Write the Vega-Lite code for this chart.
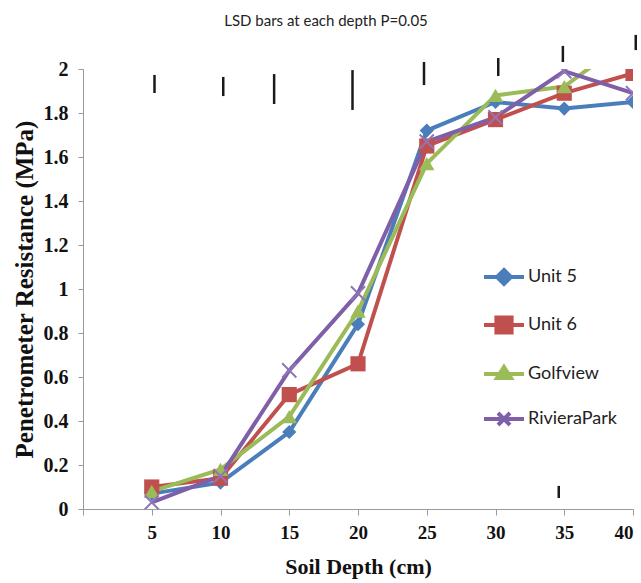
{
  "$schema": "https://vega.github.io/schema/vega-lite/v6.json",
  "width": 550,
  "height": 440,
  "autosize": {"type": "none"},
  "padding": {"left": 83, "top": 69, "right": 8, "bottom": 74},
  "background": "white",
  "title": {
    "text": "LSD bars at each depth P=0.05",
    "font": "Lato",
    "fontSize": 15,
    "fontWeight": "normal",
    "color": "#222222",
    "anchor": "middle",
    "frame": "group",
    "dx": -32,
    "offset": 5
  },
  "config": {
    "view": {"stroke": null},
    "axis": {
      "grid": false,
      "domainColor": "#9a9a9a",
      "tickColor": "#9a9a9a",
      "labelFont": "Liberation Serif",
      "labelFontWeight": "bold",
      "labelColor": "#111111",
      "titleFont": "Liberation Serif",
      "titleFontWeight": "bold",
      "titleColor": "#111111"
    }
  },
  "datasets": {
    "series": [
      {"depth": 5, "pr": 0.07, "site": "Unit 5"},
      {"depth": 10, "pr": 0.12, "site": "Unit 5"},
      {"depth": 15, "pr": 0.35, "site": "Unit 5"},
      {"depth": 20, "pr": 0.84, "site": "Unit 5"},
      {"depth": 25, "pr": 1.72, "site": "Unit 5"},
      {"depth": 30, "pr": 1.85, "site": "Unit 5"},
      {"depth": 35, "pr": 1.82, "site": "Unit 5"},
      {"depth": 40, "pr": 1.85, "site": "Unit 5"},
      {"depth": 5, "pr": 0.10, "site": "Unit 6"},
      {"depth": 10, "pr": 0.14, "site": "Unit 6"},
      {"depth": 15, "pr": 0.52, "site": "Unit 6"},
      {"depth": 20, "pr": 0.66, "site": "Unit 6"},
      {"depth": 25, "pr": 1.65, "site": "Unit 6"},
      {"depth": 30, "pr": 1.77, "site": "Unit 6"},
      {"depth": 35, "pr": 1.89, "site": "Unit 6"},
      {"depth": 40, "pr": 1.98, "site": "Unit 6"},
      {"depth": 5, "pr": 0.08, "site": "Golfview"},
      {"depth": 10, "pr": 0.18, "site": "Golfview"},
      {"depth": 15, "pr": 0.42, "site": "Golfview"},
      {"depth": 20, "pr": 0.90, "site": "Golfview"},
      {"depth": 25, "pr": 1.57, "site": "Golfview"},
      {"depth": 30, "pr": 1.88, "site": "Golfview"},
      {"depth": 35, "pr": 1.92, "site": "Golfview"},
      {"depth": 40, "pr": 2.15, "site": "Golfview"},
      {"depth": 5, "pr": 0.03, "site": "RivieraPark"},
      {"depth": 10, "pr": 0.15, "site": "RivieraPark"},
      {"depth": 15, "pr": 0.63, "site": "RivieraPark"},
      {"depth": 20, "pr": 0.98, "site": "RivieraPark"},
      {"depth": 25, "pr": 1.67, "site": "RivieraPark"},
      {"depth": 30, "pr": 1.78, "site": "RivieraPark"},
      {"depth": 35, "pr": 1.99, "site": "RivieraPark"},
      {"depth": 40, "pr": 1.89, "site": "RivieraPark"}
    ],
    "lsd": [
      {"depth": 5.2, "lo": 1.891, "hi": 1.973},
      {"depth": 10.2, "lo": 1.877, "hi": 1.964},
      {"depth": 13.9, "lo": 1.841, "hi": 1.977},
      {"depth": 19.6, "lo": 1.814, "hi": 1.995},
      {"depth": 24.8, "lo": 1.927, "hi": 2.032},
      {"depth": 30.2, "lo": 1.968, "hi": 2.05},
      {"depth": 34.9, "lo": 2.032, "hi": 2.105},
      {"depth": 40.2, "lo": 2.086, "hi": 2.155},
      {"depth": 34.6, "lo": 0.05, "hi": 0.105}
    ]
  },
  "layer": [
    {
      "data": {"name": "series"},
      "mark": {"type": "line", "strokeWidth": 4, "clip": true},
      "encoding": {
        "x": {
          "field": "depth",
          "type": "quantitative",
          "scale": {"domain": [0, 40], "nice": false, "zero": false},
          "axis": {
            "values": [0, 5, 10, 15, 20, 25, 30, 35, 40],
            "labelExpr": "datum.value === 0 ? '' : datum.label",
            "labelFontSize": 19,
            "tickSize": 6,
            "labelPadding": 8,
            "title": "Soil Depth (cm)",
            "titleFontSize": 22,
            "titlePadding": 14
          }
        },
        "y": {
          "field": "pr",
          "type": "quantitative",
          "scale": {"domain": [0, 2], "nice": false},
          "axis": {
            "values": [0, 0.2, 0.4, 0.6, 0.8, 1, 1.2, 1.4, 1.6, 1.8, 2],
            "format": "~g",
            "labelFontSize": 20,
            "tickSize": 5,
            "labelPadding": 10,
            "title": "Penetrometer  Resistance (MPa)",
            "titleFontSize": 25,
            "titlePadding": 6
          }
        },
        "color": {
          "field": "site",
          "type": "nominal",
          "scale": {
            "domain": ["Unit 5", "Unit 6", "Golfview", "RivieraPark"],
            "range": ["#4A7EBB", "#C0504D", "#9BBB59", "#7F5FA8"]
          },
          "legend": {
            "title": null,
            "orient": "none",
            "legendX": 399,
            "legendY": 186,
            "padding": 0,
            "rowPadding": 11,
            "labelOffset": 2,
            "symbolSize": 1600,
            "labelFont": "Lato",
            "labelFontSize": 18,
            "labelColor": "#222222",
            "encode": {
              "symbols": {
                "update": {
                  "shape": {"signal": "datum.value === 'Unit 5' ? 'M-1,0H1M0,-0.35L0.35,0L0,0.35L-0.35,0Z' : datum.value === 'Unit 6' ? 'M-1,0H1M-0.38,-0.38H0.38V0.38H-0.38Z' : datum.value === 'Golfview' ? 'M-1,0H1M0,-0.35L0.35,0.2H-0.35Z' : 'M-1,0H1M-0.3,-0.3L0.3,0.3M-0.3,0.3L0.3,-0.3'"},
                  "stroke": {"signal": "datum.value === 'Unit 5' ? '#4A7EBB' : datum.value === 'Unit 6' ? '#C0504D' : datum.value === 'Golfview' ? '#9BBB59' : '#7F5FA8'"},
                  "fill": {"signal": "datum.value === 'Unit 5' ? '#4A7EBB' : datum.value === 'Unit 6' ? '#C0504D' : datum.value === 'Golfview' ? '#9BBB59' : '#7F5FA8'"},
                  "strokeWidth": {"value": 4},
                  "opacity": {"value": 1}
                }
              }
            }
          }
        }
      }
    },
    {
      "data": {"name": "series"},
      "transform": [{"filter": "datum.site === 'Unit 5'"}],
      "mark": {"type": "point", "shape": "diamond", "filled": true, "clip": true, "size": 200, "color": "#4A7EBB", "opacity": 1},
      "encoding": {
        "x": {"field": "depth", "type": "quantitative"},
        "y": {"field": "pr", "type": "quantitative"}
      }
    },
    {
      "data": {"name": "series"},
      "transform": [{"filter": "datum.site === 'Unit 6'"}],
      "mark": {"type": "point", "shape": "square", "filled": true, "clip": true, "size": 230, "color": "#C0504D", "opacity": 1},
      "encoding": {
        "x": {"field": "depth", "type": "quantitative"},
        "y": {"field": "pr", "type": "quantitative"}
      }
    },
    {
      "data": {"name": "series"},
      "transform": [{"filter": "datum.site === 'Golfview'"}],
      "mark": {"type": "point", "shape": "triangle-up", "filled": true, "clip": true, "size": 240, "color": "#9BBB59", "opacity": 1},
      "encoding": {
        "x": {"field": "depth", "type": "quantitative"},
        "y": {"field": "pr", "type": "quantitative"}
      }
    },
    {
      "data": {"name": "series"},
      "transform": [{"filter": "datum.site === 'RivieraPark'"}],
      "mark": {"type": "point", "shape": "M-1,-1L1,1M-1,1L1,-1", "filled": false, "clip": true, "size": 200, "stroke": "#8F75B8", "strokeWidth": 2, "opacity": 1},
      "encoding": {
        "x": {"field": "depth", "type": "quantitative"},
        "y": {"field": "pr", "type": "quantitative"}
      }
    },
    {
      "data": {"name": "lsd"},
      "mark": {"type": "rule", "color": "#1a1a1a", "strokeWidth": 2.5, "clip": false},
      "encoding": {
        "x": {"field": "depth", "type": "quantitative"},
        "y": {"field": "lo", "type": "quantitative"},
        "y2": {"field": "hi"}
      }
    }
  ]
}
